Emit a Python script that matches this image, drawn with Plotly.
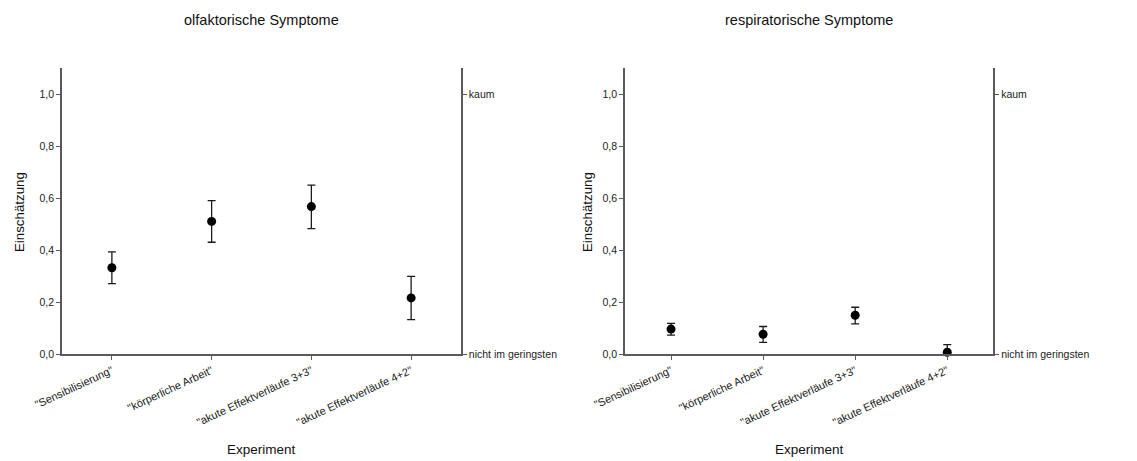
import plotly.graph_objects as go

categories = ['"Sensibilisierung"', '"körperliche Arbeit"', '"akute Effektverläufe 3+3"', '"akute Effektverläufe 4+2"']
olf_mean = [0.333, 0.511, 0.568, 0.217]
olf_err_hi = [0.061, 0.080, 0.083, 0.083]
olf_err_lo = [0.061, 0.080, 0.085, 0.084]
resp_mean = [0.097, 0.077, 0.150, 0.008]
resp_err_hi = [0.022, 0.030, 0.031, 0.029]
resp_err_lo = [0.023, 0.031, 0.033, 0.008]
y_ticks = [0.0, 0.2, 0.4, 0.6, 0.8, 1.0]
y_ticklabels = ["0,0", "0,2", "0,4", "0,6", "0,8", "1,0"]
right_ticks = [0.0, 1.0]
right_labels = ["nicht im geringsten", "kaum"]
titles = ["olfaktorische Symptome", "respiratorische Symptome"]
x_title = "Experiment"
y_title = "Einschätzung"

W, H = 1137, 461
FONT = "Liberation Sans, Arial, sans-serif"
AX = "#5a5a5a"

fig = go.Figure()

def add_series(mean, hi, lo, xa, ya):
    fig.add_trace(go.Scatter(
        x=list(range(len(categories))), y=mean, mode="markers",
        xaxis=xa, yaxis=ya, cliponaxis=False,
        marker=dict(color="black", size=9),
        error_y=dict(type="data", symmetric=False, array=hi, arrayminus=lo,
                     color="#1a1a1a", thickness=1.3, width=4),
        showlegend=False, hoverinfo="skip"))

add_series(olf_mean, olf_err_hi, olf_err_lo, "x", "y")
add_series(resp_mean, resp_err_hi, resp_err_lo, "x2", "y3")

ydom = [(H - 354.3) / H, (H - 68.3) / H]
xdoms = [[62 / W, 461 / W], [625 / W, 993.3 / W]]

tickfont = dict(family=FONT, size=10.5, color="#222")
common_x = dict(range=[-0.5, 3.5], tickmode="array", tickvals=list(range(4)), ticktext=categories,
                tickangle=-25, showline=True, linecolor=AX, linewidth=1.5, ticks="outside",
                ticklen=4, tickcolor=AX, showgrid=False, zeroline=False, automargin=False,
                tickfont=dict(family=FONT, size=11, color="#222"))
common_y = dict(range=[0, 1.1], tickmode="array", tickvals=y_ticks, ticktext=y_ticklabels,
                showline=True, linecolor=AX, linewidth=1.5, ticks="outside", ticklen=4,
                tickcolor=AX, showgrid=False, zeroline=False, automargin=False, tickfont=tickfont,
                domain=ydom)
common_r = dict(range=[0, 1.1], tickmode="array", tickvals=right_ticks, ticktext=right_labels,
                showline=True, linecolor=AX, linewidth=1.5, ticks="outside", ticklen=4,
                tickcolor=AX, showgrid=False, zeroline=False, automargin=False, tickfont=tickfont,
                side="right")

fig.update_layout(
    width=W, height=H, margin=dict(l=0, r=0, t=0, b=0),
    paper_bgcolor="white", plot_bgcolor="white",
    font=dict(family=FONT, size=12, color="#222"),
    xaxis=dict(common_x, domain=xdoms[0], anchor="y"),
    yaxis=dict(common_y, anchor="x"),
    yaxis2=dict(common_r, overlaying="y", anchor="x"),
    xaxis2=dict(common_x, domain=xdoms[1], anchor="y3"),
    yaxis3=dict(common_y, anchor="x2"),
    yaxis4=dict(common_r, overlaying="y3", anchor="x2"),
)
# placeholder traces so the right-hand axes render
fig.add_trace(go.Scatter(x=[None], y=[None], xaxis="x", yaxis="y2", showlegend=False))
fig.add_trace(go.Scatter(x=[None], y=[None], xaxis="x2", yaxis="y4", showlegend=False))

ann = []
for (x0, x1), t in zip(xdoms, titles):
    xc = (x0 + x1) / 2
    ann.append(dict(text=t, x=xc, y=1 - 20 / H, xref="paper", yref="paper", showarrow=False,
                    xanchor="center", yanchor="middle", font=dict(family=FONT, size=14.5, color="#111")))
    ann.append(dict(text=x_title, x=xc, y=1 - 449 / H, xref="paper", yref="paper", showarrow=False,
                    xanchor="center", yanchor="middle", font=dict(family=FONT, size=13.5, color="#111")))
for xp in [19, 587]:
    ann.append(dict(text=y_title, x=xp / W, y=1 - 212 / H, xref="paper", yref="paper", showarrow=False,
                    textangle=-90, xanchor="center", yanchor="middle",
                    font=dict(family=FONT, size=13.3, color="#111")))
fig.update_layout(annotations=ann)

fig.write_html("out.html")
